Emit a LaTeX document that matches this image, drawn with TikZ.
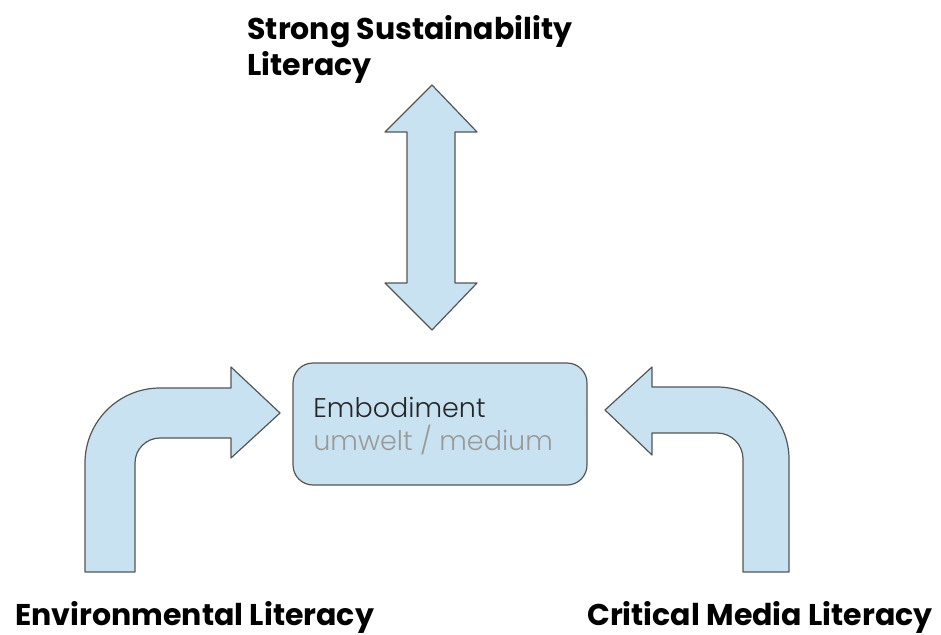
\documentclass[tikz,border=0pt]{standalone}
\usepackage{fontspec}
\setmainfont{Poppins}
\newfontfamily\lightfont{Poppins Light}
\usetikzlibrary{positioning}
\definecolor{boxblue}{HTML}{C9E2F2}
\definecolor{edgegray}{HTML}{555555}
\definecolor{softgray}{HTML}{9A9A9A}

\begin{document}
\begin{tikzpicture}[x=1pt, y=-1pt, thick,
        blk/.style = {draw=edgegray, fill=boxblue, line width=1.2pt, line join=round},
        lbl/.style = {font=\bfseries\fontsize{30}{35}\selectfont, inner sep=0pt},
        emb/.style = {font=\lightfont\fontsize{27}{30}\selectfont, inner sep=0pt, anchor=base west}]
        \useasboundingbox (0,0) rectangle (941,634);

        \node[blk, rounded corners=20pt, minimum width=294pt, minimum height=122pt] (n_emb) at (440,424) {};
        \node[emb, text=black!85] (n_emb_a) at (313,417) {Embodiment};
        \node[emb, text=softgray] (n_emb_b) at (313,450) {umwelt / medium};

        % double arrow up/down
        \draw[blk] (432,85) -- (477,132) -- (455,132) -- (455,283) -- (477,283) -- (432,330)
            -- (385,283) -- (407,283) -- (407,132) -- (385,132) -- cycle;
        % bent arrow from the left
        \draw[blk] (85,572) -- (85,463) arc[start angle=180, end angle=270, radius=75]
            -- (231,388) -- (231,367) -- (280,413) -- (231,458) -- (231,438) -- (160,438)
            arc[start angle=270, end angle=180, radius=25] -- (135,572) -- cycle;
        % bent arrow from the right
        \draw[blk] (789,572) -- (789,459) arc[start angle=0, end angle=-90, radius=72]
            -- (652,387) -- (652,367) -- (605,410) -- (652,455) -- (652,433) -- (717,433)
            arc[start angle=-90, end angle=0, radius=26] -- (743,572) -- cycle;

        \node[lbl, anchor=base west] (n_top) at (247,40) {Strong Sustainability};
        \node[lbl, anchor=base west] (n_top_b) at (247,75) {Literacy};
        \node[lbl, anchor=base west] (n_env) at (15,625) {Environmental Literacy};
        \node[lbl, anchor=base east] (n_media) at (933,625) {Critical Media Literacy};
    \end{tikzpicture}
\end{document}
